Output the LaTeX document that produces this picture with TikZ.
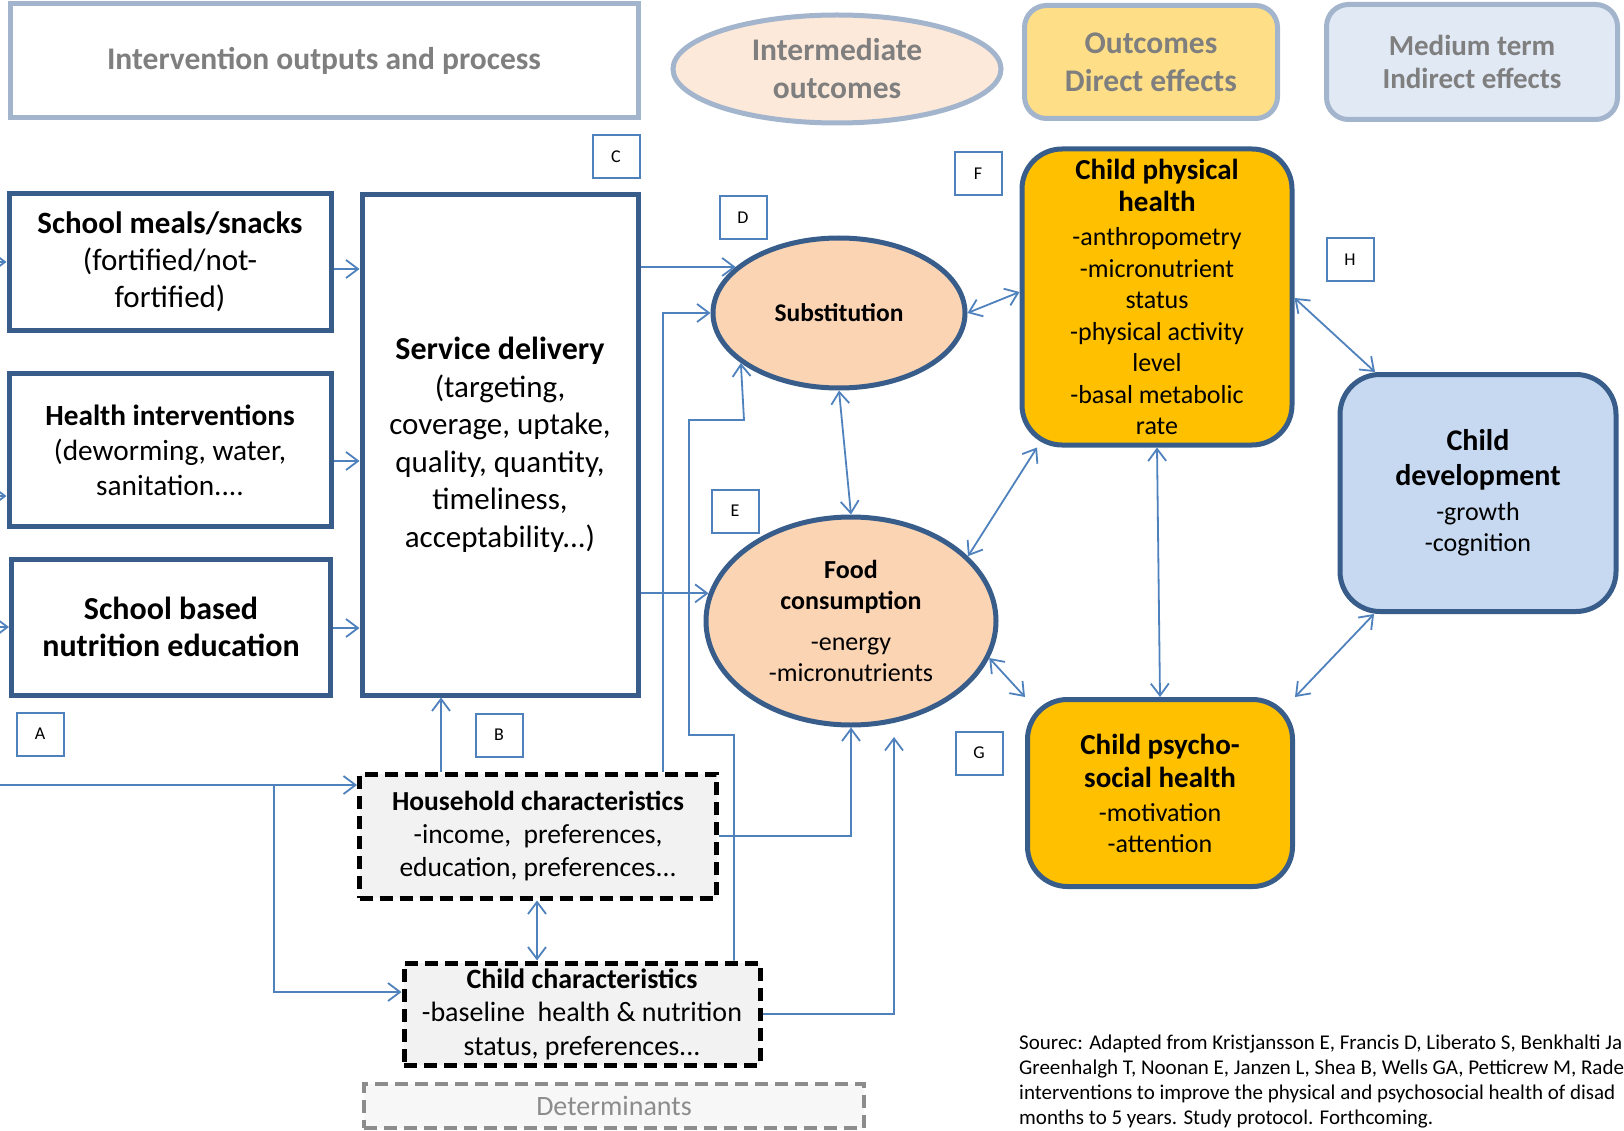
\documentclass[tikz,border=0pt]{standalone}
\usepackage{fontspec}
\setmainfont{Carlito}
\usetikzlibrary{arrows.meta,shapes.geometric}
\definecolor{dkblue}{HTML}{385D8A}
\definecolor{arrblue}{HTML}{4F81BD}
\definecolor{hdrbord}{HTML}{A3B4CD}
\definecolor{hdrtext}{HTML}{7F7F7F}
\definecolor{peachlt}{HTML}{FDE9D9}
\definecolor{peach}{HTML}{FBD4B4}
\definecolor{goldlt}{HTML}{FEDF87}
\definecolor{gold}{HTML}{FFC000}
\definecolor{bluelt}{HTML}{E1E9F5}
\definecolor{bluemd}{HTML}{C6D9F1}
\definecolor{greyfill}{HTML}{F2F2F2}
\definecolor{detgrey}{HTML}{8C8C8C}
\newcommand{\myfs}[2]{\fontsize{#1}{#2}\selectfont}
\begin{document}
\begin{tikzpicture}[x=1pt,y=-1pt,
  hdr/.style={draw=hdrbord, line width=5pt, fill=white, text=hdrtext, font=\myfs{31.5}{38}\bfseries, align=center, inner sep=0pt},
  ibox/.style={draw=dkblue, line width=5pt, fill=white, align=center, inner sep=0pt},
  oval/.style={ellipse, draw=dkblue, line width=5pt, fill=peach, align=center, inner sep=0pt},
  obox/.style={rectangle, rounded corners=40pt, draw=dkblue, line width=5pt, fill=gold, align=center, inner sep=0pt},
  dbox/.style={draw=black, line width=5pt, dash pattern=on 13pt off 7pt, fill=greyfill, align=center, inner sep=0pt},
  tag/.style={draw=arrblue, line width=2pt, fill=white, minimum width=47pt, minimum height=43pt, inner sep=0pt, font=\myfs{18}{20}},
  arr/.style={draw=arrblue, line width=1.8pt, -{Straight Barb[length=12pt,width=18pt]}},
  darr/.style={draw=arrblue, line width=1.8pt, {Straight Barb[length=12pt,width=18pt]}-{Straight Barb[length=12pt,width=18pt]}},
]
\useasboundingbox (0,0) rectangle (1624,1131);

% header row
\node[hdr, minimum width=628pt, minimum height=114pt] (hA) at (324,61) {Intervention outputs and process};
\node[hdr, ellipse, fill=peachlt, minimum width=328pt, minimum height=108pt] (hB) at (837,69) {Intermediate\\outcomes};
\node[hdr, rounded corners=22pt, fill=goldlt, minimum width=253pt, minimum height=113pt] (hC) at (1151,62) {Outcomes\\Direct effects};
\node[hdr, rounded corners=22pt, fill=bluelt, minimum width=291pt, minimum height=115pt, font=\myfs{29}{33}\bfseries] (hD) at (1472,62) {Medium term\\Indirect effects};

% intervention boxes
\node[ibox, minimum width=322pt, minimum height=137pt, font=\myfs{31}{37}] (meals) at (170,262) {\textbf{School meals/snacks}\\(fortified/not-\\fortified)};
\node[ibox, minimum width=322pt, minimum height=153pt, font=\myfs{29.3}{35}] (health) at (170,450) {\textbf{Health interventions}\\(deworming, water,\\sanitation....};
\node[ibox, minimum width=319pt, minimum height=136pt, font=\myfs{32}{37}\bfseries] (edu) at (171,627) {School based\\nutrition education};
\node[ibox, minimum width=276pt, minimum height=500pt, font=\myfs{31}{37.5}] (sd) at (500,445) {{\myfs{32}{37}\bfseries Service delivery}\\(targeting,\\coverage, uptake,\\quality, quantity,\\timeliness,\\acceptability...)};

% intermediate outcomes
\node[oval, minimum width=252pt, minimum height=150pt, font=\myfs{25.5}{30}\bfseries] (subst) at (839,313) {Substitution};
\node[oval, minimum width=290pt, minimum height=208pt, font=\myfs{26}{30.5}] (food) at (851,621) {\textbf{Food}\\\textbf{consumption}\\[11pt]-energy\\-micronutrients};

% outcomes
\node[obox, minimum width=270pt, minimum height=296pt, font=\myfs{26}{31.5}] (cph) at (1157,297) {{\myfs{29}{32}\bfseries Child physical}\\[0.5pt]{\myfs{29}{32}\bfseries health}\\[2.5pt]-anthropometry\\-micronutrient\\status\\-physical activity\\level\\-basal metabolic\\rate};
\node[obox, minimum width=265pt, minimum height=187pt, font=\myfs{26}{31}] (cps) at (1160,793) {{\myfs{29}{33}\bfseries Child psycho-}\\[2pt]{\myfs{29}{33}\bfseries social health}\\[3pt]-motivation\\-attention};
\node[obox, fill=bluemd, minimum width=276pt, minimum height=237pt, font=\myfs{26}{31}] (cdev) at (1478,493) {{\myfs{30}{35}\bfseries Child}\\[4pt]{\myfs{30}{35}\bfseries development}\\[4pt]-growth\\-cognition};

% determinants
\node[dbox, minimum width=357pt, minimum height=124pt, font=\myfs{27.5}{33}] (hh) at (538,836) {\textbf{Household characteristics}\\-income,\ \ preferences,\\education, preferences...};
\node[dbox, minimum width=356pt, minimum height=102pt, font=\myfs{28}{33.5}] (cc) at (582,1014) {\textbf{Child characteristics}\\-baseline\ \ health \& nutrition\\status, preferences...};
\node[dbox, draw=detgrey, line width=4pt, fill=black!3, text=detgrey, minimum width=500pt, minimum height=44pt, font=\myfs{28}{32}] (det) at (614,1106) {Determinants};

% source
\node[anchor=north west, align=left, inner sep=0pt, font=\myfs{21}{25}] (src) at (1019,1035) {Sourec: Adapted from Kristjansson E, Francis D, Liberato S, Benkhalti Ja\\Greenhalgh T, Noonan E, Janzen L, Shea B, Wells GA, Petticrew M, Rade\\interventions to improve the physical and psychosocial health of disad\\months to 5 years. Study protocol. Forthcoming.};

% tags
\node[tag] (tC) at (616,157) {C};
\node[tag] (tF) at (978,174) {F};
\node[tag] (tD) at (743,218) {D};
\node[tag] (tH) at (1350,260) {H};
\node[tag] (tE) at (735,511) {E};
\node[tag] (tA) at (40,734) {A};
\node[tag] (tB) at (499,735) {B};
\node[tag] (tG) at (979,753) {G};

% connectors left
\coordinate (inA) at (-20,262);
\coordinate (inB) at (-20,496);
\coordinate (inC) at (-20,627);
\coordinate (inD) at (-20,785);
\draw[arr] (inA) -- (meals.west |- inA);
\draw[arr] (inB) -- (health.west |- inB);
\draw[arr] (inC) -- (edu.west |- inC);
\draw[arr] (meals.east |- 0,269) -- (sd.west |- 0,269);
\draw[arr] (health.east |- 0,461) -- (sd.west |- 0,461);
\draw[arr] (edu.east |- 0,628) -- (sd.west |- 0,628);
\draw[arr] (sd.east |- subst.156) -- (subst.156);
\draw[arr] (sd.east |- food.169) -- (food.169);
\draw[arr] (hh.north -| 663,0) |- (subst.west);
\draw[arr] (cc.north -| 734,0) |- (689,735) |- (744,420) -- (subst.207);
\draw[arr] (hh.north -| 441,0) -- (sd.south -| 441,0);
\draw[arr] (hh.east) -| (food.south);
\coordinate (ccend) at (894,737);
\draw[arr] (cc.east) -| (ccend);
\draw[darr] (hh.south -| 537,0) -- (cc.north -| 537,0);
\draw[arr] (inD) -- (hh.west |- inD);
\draw[arr] (274,785) |- (cc.west |- 0,992);

% connectors right
\draw[darr] (subst.east) -- (cph.west |- 0,292);
\draw[darr] (subst.south) -- (food.north);
\draw[darr] (food.29) -- (cph.south -| 1037,0);
\draw[darr] (food.-15) -- (cps.north west);
\draw[darr] (cph.south) -- (cps.north);
\draw[darr] (cph.east |- 0,298) -- (cdev.north -| 1375,0);
\draw[darr] (cps.north east) -- (cdev.south -| 1374,0);
\end{tikzpicture}
\end{document}
